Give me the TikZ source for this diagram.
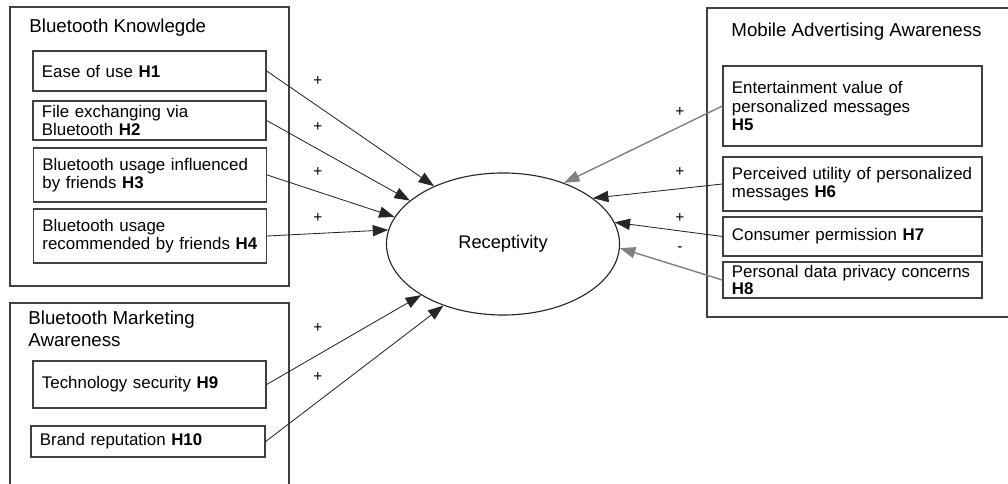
\documentclass[tikz,border=0pt]{standalone}
\usepackage{fontspec}
\setmainfont{Liberation Sans}
\usetikzlibrary{shapes.geometric,arrows.meta}
\begin{document}
\begin{tikzpicture}[x=0.025cm, y=-0.025cm, >={Triangle[length=11pt,width=8pt]}, semithick,
  hbox/.style={draw=black!75, line width=0.9pt, align=left, inner xsep=0.225cm, inner ysep=1pt, font=\fontsize{12}{13}\selectfont},
  sign/.style={font=\fontsize{11}{12}\selectfont, inner sep=0pt},
  grptitle/.style={anchor=west, align=left, inner sep=0pt, font=\fontsize{13.3}{15.5}\selectfont}]
\useasboundingbox (0,0) rectangle (1008,484);

% group frames
\draw[black!75, line width=0.9pt] (10,7) rectangle (289,286);
\draw[black!75, line width=0.9pt] (10,490) -- (10,303) -- (289,303) -- (289,490);
\draw[black!75, line width=0.9pt] (1015,8) -- (707,8) -- (707,317) -- (1015,317);

\node[grptitle] (t1) at (29,28) {Bluetooth Knowlegde};
\node[grptitle] (t2) at (28,329) {Bluetooth Marketing\\Awareness};
\node[grptitle] (t3) at (731,32) {Mobile Advertising Awareness};

% left factors
\node[hbox, text width=5.375cm, minimum height=1cm] (h1) at (149.5,71) {Ease of use \textbf{H1}};
\node[hbox, text width=5.375cm, minimum height=0.975cm] (h2) at (149.5,120.5) {File exchanging via\\Bluetooth \textbf{H2}};
\node[hbox, text width=5.375cm, minimum height=1.35cm] (h3) at (150,175) {Bluetooth usage influenced\\by friends \textbf{H3}};
\node[hbox, text width=5.375cm, minimum height=1.35cm] (h4) at (150,236) {Bluetooth usage\\recommended by friends \textbf{H4}};
\node[hbox, text width=5.375cm, minimum height=1.175cm] (h9) at (149.5,384.5) {Technology security \textbf{H9}};
\node[hbox, text width=5.4cm, minimum height=0.775cm] (h10) at (148,441.5) {Brand reputation \textbf{H10}};

% right factors
\node[hbox, text width=6.025cm, minimum height=2cm] (h5) at (852.5,106) {Entertainment value of\\personalized messages\\\textbf{H5}};
\node[hbox, text width=6.025cm, minimum height=1.35cm] (h6) at (852.5,184) {Perceived utility of personalized\\messages \textbf{H6}};
\node[hbox, text width=6.025cm, minimum height=0.975cm] (h7) at (852.5,236.5) {Consumer permission \textbf{H7}};
\node[hbox, text width=6.025cm, minimum height=0.9cm, inner ysep=0pt, font=\fontsize{12}{12.5}\selectfont] (h8) at (852.5,280) {Personal data privacy concerns\\\textbf{H8}};

\node[ellipse, draw=black!85, line width=0.8pt, minimum width=5.825cm, minimum height=3.55cm, inner sep=0pt, font=\fontsize{13}{14}\selectfont] (rec) at (503,244) {Receptivity};

% signs
\node[sign] (p1) at (318,81) {+};
\node[sign] (p2) at (318,127) {+};
\node[sign] (p3) at (318,172) {+};
\node[sign] (p4) at (318,218) {+};
\node[sign] (p9) at (318,328) {+};
\node[sign] (p10) at (318,377) {+};
\node[sign] (p5) at (680,112) {+};
\node[sign] (p6) at (680,172) {+};
\node[sign] (p7) at (680,218) {+};
\node[sign] (p8) at (680,249) {-};

% paths
\draw[->, black!85] (h1.east) -- (rec.140);
\draw[->, black!85] (h2.east) -- (rec.155);
\draw[->, black!85] (h3.east) -- (rec.166);
\draw[->, black!85] (h4.east) -- (rec.173);
\draw[->, black!85] (h9.east) -- (rec.212);
\draw[->, black!85] (h10.east) -- (rec.226);
\draw[->, black!50, line width=1pt] (h5.west) -- (rec.45);
\draw[->, black!85] (h6.west) -- (rec.27);
\draw[->, black!85] (h7.west) -- (rec.11);
\draw[->, black!50, line width=1pt] (h8.west) -- (rec.-2);
\end{tikzpicture}
\end{document}
